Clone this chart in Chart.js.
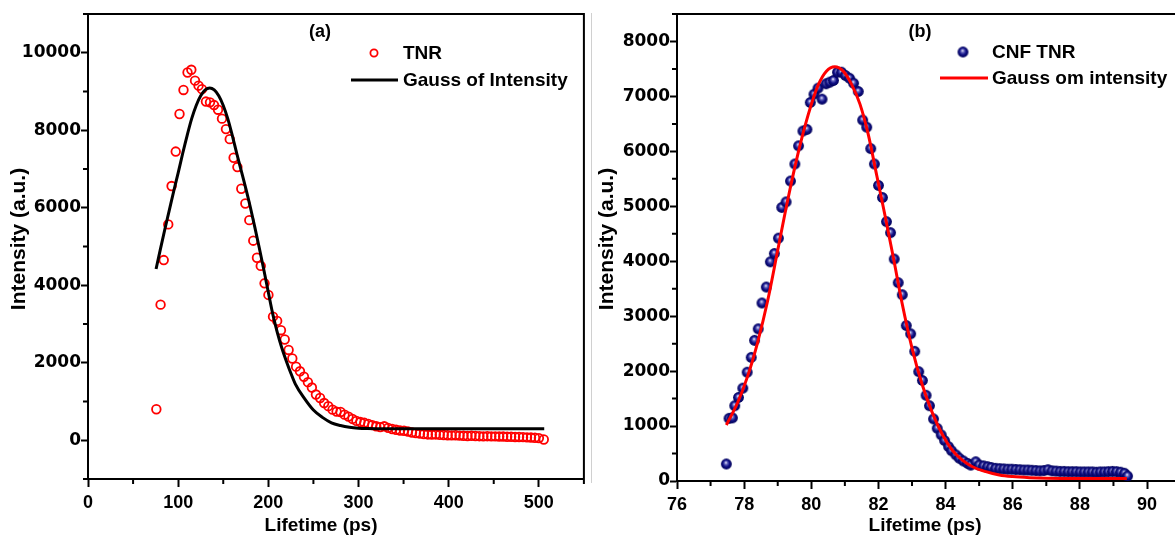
<!DOCTYPE html>
<html>
<head>
<meta charset="utf-8">
<script src="https://cdn.jsdelivr.net/npm/chart.js@4.4.0/dist/chart.umd.min.js"></script>
<style>
  html, body { margin: 0; padding: 0; background: #fff; overflow: hidden; }
  #wrap { position: relative; width: 1175px; height: 538px; overflow: hidden; }
  #boxA { position: absolute; left: 0; top: 0; width: 590px; height: 538px; }
  #boxB { position: absolute; left: 592px; top: 0; width: 595px; height: 538px; }
  #sep { position: absolute; left: 591px; top: 13px; width: 1px; height: 470px; background: #d0d0d0; }
</style>
</head>
<body>
<div id="wrap">
  <div id="boxA"><canvas id="chartA" width="590" height="538"></canvas></div>
  <div id="sep"></div>
  <div id="boxB"><canvas id="chartB" width="595" height="538"></canvas></div>
</div>
<script>
// panel (a) - TNR
const tnrLifetime = [75.8, 80.5, 84.0, 89.0, 92.7, 97.3, 101.5, 105.9, 110.4, 114.6,
  118.7, 122.6, 126.4, 130.8, 135.3, 139.8, 144.2, 148.6, 153.0, 157.2,
  161.5, 165.7, 170.0, 174.5, 178.9, 183.3, 187.4, 191.6, 195.8, 200.1,
  205.2, 209.8, 214.0, 218.2, 222.5, 226.6, 230.8, 235.1, 239.5, 243.9,
  248.3, 252.8, 257.4, 261.9, 266.5, 271.2, 275.7, 280.1, 284.5, 288.9,
  293.3, 297.7, 302.1, 306.5, 310.9, 315.3, 319.7, 324.1, 328.5, 332.9,
  337.3, 341.7, 346.1, 350.5, 354.9, 359.3, 363.7, 368.1, 372.5, 376.9,
  381.3, 385.7, 390.1, 394.5, 398.9, 403.3, 407.7, 412.1, 416.5, 420.9,
  425.3, 429.7, 434.1, 438.5, 442.9, 447.3, 451.7, 456.1, 460.5, 464.9,
  469.3, 473.7, 478.1, 482.5, 486.9, 491.3, 495.7, 500.1, 505.5];
const tnrIntensity = [800, 3500, 4650, 5570, 6560, 7450, 8420, 9040, 9490, 9560,
  9280, 9150, 9060, 8740, 8720, 8650, 8530, 8300, 8030, 7770,
  7290, 7050, 6490, 6110, 5680, 5150, 4710, 4500, 4050, 3750,
  3190, 3080, 2840, 2600, 2330, 2110, 1900, 1780, 1640, 1500,
  1360, 1180, 1090, 960, 880, 790, 740, 730, 660, 610,
  550, 500, 470, 450, 420, 390, 360, 340, 360, 320,
  290, 270, 250, 245, 225, 200, 185, 170, 160, 150,
  145, 150, 140, 135, 130, 125, 130, 120, 115, 110,
  115, 110, 105, 100, 105, 100, 100, 95, 95, 90,
  90, 85, 85, 80, 75, 70, 65, 55, 20];
const fitALifetime = [75.5, 80, 85, 90, 95, 100, 105, 110, 115, 120, 125, 130, 135, 140, 145,
  150, 155, 160, 165, 170, 175, 180, 185, 190, 195, 200, 205, 210, 215, 220, 225, 230,
  240, 250, 260, 270, 280, 290, 300, 310, 320, 400, 506];
const fitAIntensity = [4420, 4900, 5420, 5920, 6420, 6900, 7400, 7870, 8300, 8640, 8890, 9040, 9090, 9040, 8890,
  8640, 8300, 7870, 7400, 6950, 6500, 6020, 5500, 4960, 4400, 3820, 3250, 2780, 2380, 2040, 1730, 1450,
  1080, 780, 590, 450, 380, 335, 312, 303, 300, 300, 300];

// panel (b) - CNF TNR
const cnfLifetime = [77.47, 77.55, 77.65, 77.72, 77.83, 77.96, 78.09, 78.21, 78.31, 78.42,
  78.53, 78.66, 78.78, 78.90, 79.02, 79.12, 79.25, 79.38, 79.51, 79.62,
  79.75, 79.87, 79.97, 80.08, 80.20, 80.32, 80.44, 80.55, 80.66, 80.78,
  80.90, 81.02, 81.14, 81.26, 81.40, 81.53, 81.65, 81.77, 81.88, 82.00,
  82.12, 82.24, 82.36, 82.47, 82.59, 82.71, 82.83, 82.96, 83.08, 83.20,
  83.31, 83.42, 83.52, 83.64, 83.75, 83.87, 83.97, 84.09, 84.18, 84.31,
  84.41, 84.53, 84.66, 84.75, 84.90, 85.00, 85.13, 85.25, 85.36, 85.49,
  85.61, 85.73, 85.85, 85.97, 86.09, 86.21, 86.33, 86.45, 86.57, 86.69,
  86.81, 86.93, 87.05, 87.17, 87.29, 87.41, 87.53, 87.65, 87.77, 87.89,
  88.01, 88.13, 88.25, 88.37, 88.49, 88.61, 88.73, 88.85, 88.97, 89.09,
  89.21, 89.33, 89.42];
const cnfIntensity = [310, 1140, 1150, 1370, 1520, 1690, 1980, 2250, 2560, 2770,
  3240, 3530, 3990, 4140, 4420, 4980, 5080, 5460, 5770, 6100,
  6370, 6400, 6890, 7040, 7150, 6950, 7230, 7260, 7290, 7440,
  7440, 7380, 7330, 7240, 7090, 6570, 6440, 6050, 5770, 5380,
  5160, 4720, 4520, 4040, 3610, 3390, 2830, 2680, 2360, 1990,
  1830, 1560, 1370, 1130, 960, 840, 735, 625, 550, 475,
  415, 365, 320, 290, 350, 290, 275, 260, 245, 230,
  225, 220, 215, 215, 210, 205, 200, 200, 195, 190,
  185, 190, 205, 185, 180, 175, 175, 170, 170, 170,
  165, 165, 165, 165, 160, 165, 165, 170, 175, 170,
  160, 140, 90];
const fitBLifetime = [77.47, 77.8, 78.1, 78.4, 78.7, 79.0, 79.3, 79.6, 79.9, 80.2, 80.45, 80.7, 80.95,
  81.2, 81.45, 81.7, 81.95, 82.2, 82.45, 82.7, 83.0, 83.3, 83.6, 83.9, 84.2, 84.5, 84.8,
  85.2, 85.6, 86.0, 86.5, 87.0, 88.0, 89.4];
const fitBIntensity = [1020, 1420, 1900, 2520, 3280, 4200, 5120, 5950, 6650, 7200, 7460, 7540, 7460,
  7220, 6860, 6300, 5560, 4820, 4050, 3250, 2420, 1760, 1250, 850, 560, 380, 260,
  170, 110, 80, 60, 50, 45, 45];

function pairs(xs, ys) {
  return xs.map((x, i) => ({ x: x, y: ys[i] }));
}

function isMajor(v, every) {
  const r = Math.abs(v / every - Math.round(v / every));
  return r < 1e-6;
}

// navy ball marker for panel (b)
function makeSphere(r) {
  const c = document.createElement('canvas');
  const d = Math.ceil(r * 2) + 2;
  c.width = c.height = d;
  const g = c.getContext('2d');
  const cx = d / 2, cy = d / 2;
  const grd = g.createRadialGradient(cx - 0.5, cy - 1.5, 0.2, cx, cy, r);
  grd.addColorStop(0, '#eeeeff');
  grd.addColorStop(0.25, '#6a6ac0');
  grd.addColorStop(0.6, '#101085');
  grd.addColorStop(1, '#000058');
  g.fillStyle = grd;
  g.beginPath();
  g.arc(cx, cy, r, 0, Math.PI * 2);
  g.fill();
  return c;
}
const sphere = makeSphere(5.4);

function axis(min, max, step, every, fixed, isX) {
  return {
    type: 'linear',
    min: min,
    max: max,
    ticks: {
      stepSize: step,
      autoSkip: false,
      maxRotation: 0,
      color: '#000',
      padding: isX ? 5 : 0,
      font: isX ? { family: 'Liberation Sans', size: 18, weight: 'bold' }
                : { family: 'DejaVu Sans', size: 17, weight: 'bold' },
      callback: v => isMajor(v, every) ? String(v) : ''
    },
    grid: {
      drawOnChartArea: false,
      drawTicks: true,
      tickLength: isX ? 8 : 7,
      tickWidth: 2,
      tickColor: c => (c.tick && isMajor(c.tick.value, every)) ? '#000' : 'rgba(0,0,0,0)'
    },
    border: { display: true, color: '#000', width: 2 },
    afterFit: s => { if (isX) s.height = fixed; else s.width = fixed; }
  };
}

// frame, minor ticks, titles and legend
const decor = {
  id: 'decor',
  afterDraw(chart, args, o) {
    const ctx = chart.ctx;
    const a = chart.chartArea;
    ctx.save();
    ctx.strokeStyle = '#000';
    ctx.lineWidth = 2;
    ctx.beginPath();
    ctx.moveTo(a.left, a.top);
    ctx.lineTo(a.right, a.top);
    ctx.lineTo(a.right, a.bottom);
    ctx.stroke();

    const xs = chart.scales.x, ys = chart.scales.y;
    ctx.beginPath();
    xs.ticks.forEach(t => {
      if (!isMajor(t.value, o.xEvery)) {
        const px = xs.getPixelForValue(t.value);
        ctx.moveTo(px, a.bottom);
        ctx.lineTo(px, a.bottom + 5);
      }
    });
    ys.ticks.forEach(t => {
      if (!isMajor(t.value, o.yEvery)) {
        const py = ys.getPixelForValue(t.value);
        ctx.moveTo(a.left, py);
        ctx.lineTo(a.left - 5, py);
      }
    });
    ctx.stroke();

    ctx.fillStyle = '#000';
    ctx.font = 'bold 18px "Liberation Sans"';
    ctx.textAlign = 'center';
    ctx.textBaseline = 'middle';
    ctx.fillText(o.panel, o.panelX, 32);

    ctx.font = 'bold 19px "Liberation Sans"';
    ctx.textBaseline = 'alphabetic';
    ctx.fillText('Lifetime (ps)', o.xTitleX, 531);

    ctx.save();
    ctx.translate(o.yTitleX, 239);
    ctx.rotate(-Math.PI / 2);
    ctx.font = 'bold 21px "Liberation Sans"';
    ctx.textBaseline = 'middle';
    ctx.fillText('Intensity (a.u.)', 0, 0);
    ctx.restore();

    ctx.font = 'bold 19px "Liberation Sans"';
    ctx.textAlign = 'left';
    ctx.textBaseline = 'middle';
    o.legend.forEach(item => {
      if (item.kind === 'circle') {
        ctx.strokeStyle = '#ff0000';
        ctx.lineWidth = 1.8;
        ctx.beginPath();
        ctx.arc(item.mx, item.y, 3.6, 0, Math.PI * 2);
        ctx.stroke();
      } else if (item.kind === 'ball') {
        ctx.drawImage(sphere, item.mx - sphere.width / 2, item.y - sphere.height / 2);
      } else {
        ctx.strokeStyle = item.color;
        ctx.lineWidth = 3;
        ctx.beginPath();
        ctx.moveTo(item.x1, item.y);
        ctx.lineTo(item.x2, item.y);
        ctx.stroke();
      }
      ctx.fillStyle = '#000';
      ctx.fillText(item.text, item.tx, item.y + 1);
    });
    ctx.restore();
  }
};

new Chart(document.getElementById('chartA'), {
  type: 'scatter',
  data: {
    datasets: [{
      label: 'Gauss of Intensity',
      data: pairs(fitALifetime, fitAIntensity),
      showLine: true,
      borderColor: '#000',
      borderWidth: 3,
      pointRadius: 0,
      cubicInterpolationMode: 'monotone'
    }, {
      label: 'TNR',
      data: pairs(tnrLifetime, tnrIntensity),
      pointStyle: 'circle',
      pointRadius: 4.3,
      pointBorderWidth: 1.8,
      borderColor: '#ff0000',
      backgroundColor: 'rgba(0,0,0,0)'
    }]
  },
  options: {
    responsive: false,
    animation: false,
    layout: { padding: { left: 0, top: 14, right: 2, bottom: 0 } },
    scales: {
      x: axis(0, 550, 50, 100, 59, true),
      y: axis(-1000, 11000, 1000, 2000, 88, false)
    },
    plugins: {
      legend: { display: false },
      tooltip: { enabled: false },
      decor: {
        xEvery: 100, yEvery: 2000, panel: '(a)', panelX: 320, xTitleX: 321, yTitleX: 19,
        legend: [
          { kind: 'circle', mx: 374, y: 53, tx: 403, text: 'TNR' },
          { kind: 'line', color: '#000', x1: 351, x2: 398, y: 80, tx: 403, text: 'Gauss of Intensity' }
        ]
      }
    }
  },
  plugins: [decor]
});

new Chart(document.getElementById('chartB'), {
  type: 'scatter',
  data: {
    datasets: [{
      label: 'Gauss om intensity',
      data: pairs(fitBLifetime, fitBIntensity),
      showLine: true,
      borderColor: '#ff0000',
      borderWidth: 3,
      pointRadius: 0,
      cubicInterpolationMode: 'monotone'
    }, {
      label: 'CNF TNR',
      data: pairs(cnfLifetime, cnfIntensity),
      pointStyle: sphere,
      pointRadius: 5.4
    }]
  },
  options: {
    responsive: false,
    animation: false,
    layout: { padding: { left: 0, top: 14, right: 2, bottom: 0 } },
    scales: {
      x: axis(76, 91, 1, 2, 57, true),
      y: axis(0, 8500, 500, 1000, 85, false)
    },
    plugins: {
      legend: { display: false },
      tooltip: { enabled: false },
      decor: {
        xEvery: 2, yEvery: 1000, panel: '(b)', panelX: 328, xTitleX: 333, yTitleX: 15,
        legend: [
          { kind: 'ball', mx: 371, y: 52, tx: 400, text: 'CNF TNR' },
          { kind: 'line', color: '#ff0000', x1: 348, x2: 396, y: 78, tx: 400, text: 'Gauss om intensity' }
        ]
      }
    }
  },
  plugins: [decor]
});
</script>
</body>
</html>
